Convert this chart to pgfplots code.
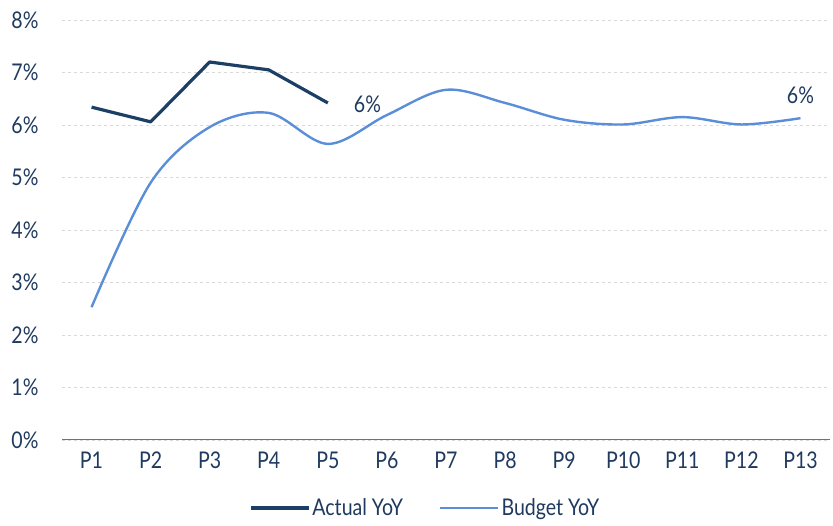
\documentclass[border=0pt]{standalone}
\usepackage{pgfplots}
\pgfplotsset{compat=1.18}
\usepackage{fontspec}
\setmainfont[FakeStretch=0.85]{Lato}
\definecolor{navy}{HTML}{1C3F66}
\definecolor{budget}{HTML}{5B8ED8}
\definecolor{txt}{HTML}{1F3A5F}
\definecolor{grid}{HTML}{D9D9D9}
\definecolor{axisline}{HTML}{5F7690}
\newcommand{\fs}{\fontsize{23}{27}\selectfont}
\begin{document}
\begin{tikzpicture}[x=1pt,y=1pt]
\begin{axis}[
  name=ax,
  scale only axis,
  width=768pt, height=420pt,
  xmin=0.5, xmax=13.5,
  ymin=0, ymax=8,
  xtick={1,...,13},
  xticklabels={P1,P2,P3,P4,P5,P6,P7,P8,P9,P10,P11,P12,P13},
  ytick={0,1,...,8},
  yticklabel={\pgfmathprintnumber{\tick}\%},
  /pgf/number format/assume math mode=true,
  font=\fs,
  tick label style={text=txt, font=\fs},
  yticklabel style={xshift=-20pt},
  xticklabel style={yshift=-8pt},
  major tick length=0pt,
  axis x line*=bottom,
  axis y line*=left,
  y axis line style={draw=none},
  x axis line style={draw=axisline, line width=1pt, -},
  ymajorgrids,
  grid style={draw=grid, dashed, line width=0.8pt},
  clip=false,
  legend columns=2,
  legend style={draw=none, at={(0.473,-0.162)}, anchor=center,
    font=\fs, text=txt, inner sep=0pt,
    /tikz/every odd column/.append style={column sep=0pt},
    /tikz/every even column/.append style={column sep=34pt}},
  legend image code/.code={\draw[#1] (-2pt,0pt) -- (56pt,0pt);},
]
\addplot[navy, line width=3.2pt, line join=round] coordinates {
  (1,6.34) (2,6.06) (3,7.20) (4,7.05) (5,6.42)
};
\addlegendentry{Actual YoY}
\addplot[budget, line width=2.4pt, smooth, tension=0.55] coordinates {
  (1,2.53) (2,4.90) (3,5.96) (4,6.23) (5,5.64) (6,6.19) (7,6.67)
  (8,6.42) (9,6.10) (10,6.01) (11,6.15) (12,6.01) (13,6.13)
};
\addlegendentry{Budget YoY}
\node[text=txt, font=\fs] at (axis cs:5.67,6.40) {6\%};
\node[text=txt, font=\fs] at (axis cs:13,6.57) {6\%};
\end{axis}
\pgfresetboundingbox
\path ([shift={(-62pt,-86pt)}]ax.south west) rectangle ([shift={(3pt,20pt)}]ax.north east);
\end{tikzpicture}
\end{document}
